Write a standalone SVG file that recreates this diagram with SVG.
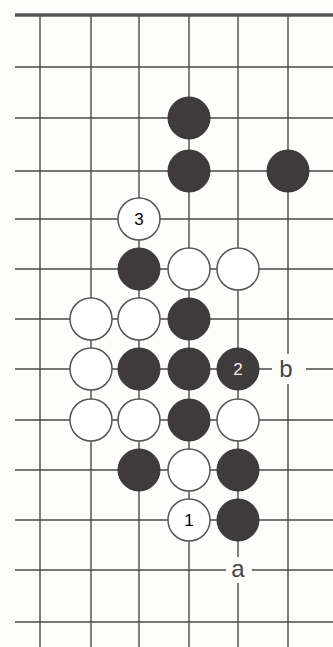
<svg xmlns="http://www.w3.org/2000/svg" width="333" height="647" viewBox="0 0 333 647">
<style>
.g{stroke:#4a4a4a;stroke-width:1.4;fill:none}
.edge{stroke:#555;stroke-width:3.5}
.b{fill:#3f3b3c;stroke:#333;stroke-width:1}
.w{fill:#fff;stroke:#555;stroke-width:1.5}
.n{font-family:"Liberation Sans",Arial,sans-serif;font-size:17px;text-anchor:middle;dominant-baseline:central}
.l{font-family:"Liberation Sans",Arial,sans-serif;font-size:24px;text-anchor:middle;dominant-baseline:central;fill:#444}
</style>
<rect width="333" height="647" fill="#fdfdfb"/>
<g id="grid">
<path class="g" d="M40 15V647M91 15V647M139 15V647M189 15V647M238 15V647M288 15V647"/>
<path class="g" d="M15 67H333M15 118H333M15 171H333M15 219H333M15 269H333M15 319H333M15 369H333M15 420H333M15 470H333M15 520H333M15 570H333M15 622H333"/>
<line class="edge" x1="15" y1="15" x2="333" y2="15"/>
</g>
<g id="stones">
<g id="b1"><circle class="b" cx="189" cy="118" r="21"/></g>
<g id="b2"><circle class="b" cx="189" cy="171" r="21"/></g>
<g id="b3"><circle class="b" cx="288" cy="171" r="21"/></g>
<g id="w3"><circle class="w" cx="139" cy="219" r="21"/><text class="n" x="139" y="219">3</text></g>
<g id="b4"><circle class="b" cx="139" cy="269" r="21"/></g>
<g id="w4"><circle class="w" cx="189" cy="269" r="21"/></g>
<g id="w5"><circle class="w" cx="238" cy="269" r="21"/></g>
<g id="w6"><circle class="w" cx="91" cy="319" r="21"/></g>
<g id="w7"><circle class="w" cx="139" cy="319" r="21"/></g>
<g id="b5"><circle class="b" cx="189" cy="319" r="21"/></g>
<g id="w8"><circle class="w" cx="91" cy="369" r="21"/></g>
<g id="b6"><circle class="b" cx="139" cy="369" r="21"/></g>
<g id="b7"><circle class="b" cx="189" cy="369" r="21"/></g>
<g id="b2m"><circle class="b" cx="238" cy="369" r="21"/><text class="n" x="238" y="369" fill="#f4eeee">2</text></g>
<g id="w9"><circle class="w" cx="91" cy="420" r="21"/></g>
<g id="w10"><circle class="w" cx="139" cy="420" r="21"/></g>
<g id="b8"><circle class="b" cx="189" cy="420" r="21"/></g>
<g id="w11"><circle class="w" cx="238" cy="420" r="21"/></g>
<g id="b9"><circle class="b" cx="139" cy="470" r="21"/></g>
<g id="w12"><circle class="w" cx="189" cy="470" r="21"/></g>
<g id="b10"><circle class="b" cx="238" cy="470" r="21"/></g>
<g id="w1m"><circle class="w" cx="189" cy="520" r="21"/><text class="n" x="189" y="520">1</text></g>
<g id="b11"><circle class="b" cx="238" cy="520" r="21"/></g>
</g>
<g id="labels">
<g id="lb"><rect x="272" y="354" width="34" height="30" fill="#fdfdfb"/><text class="l" x="286" y="368">b</text></g>
<g id="la"><rect x="226" y="557" width="26" height="26" fill="#fdfdfb"/><text class="l" x="238" y="568">a</text></g>
</g>
</svg>
